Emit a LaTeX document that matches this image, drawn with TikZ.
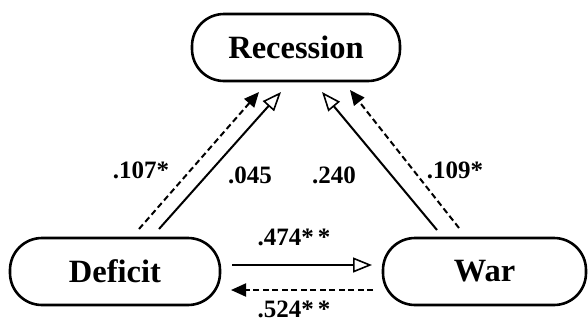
\documentclass[tikz,border=0pt]{standalone}
\usepackage{fontspec}
\setmainfont{Liberation Serif}
\usetikzlibrary{arrows.meta}
\begin{document}
\begin{tikzpicture}[x=1pt,y=-1pt,
  varbox/.style={draw=black, line width=2.6pt, rounded corners=32pt, minimum height=67pt, inner sep=0pt, font=\fontsize{32.5}{35}\selectfont\bfseries},
  coef/.style={font=\fontsize{25}{27}\selectfont\bfseries, inner sep=0pt},
  pathsolid/.style={line width=2pt, -{Triangle[open, length=19pt, width=15pt, line width=1.6pt]}},
  pathdash/.style={line width=2pt, dash pattern=on 6pt off 3.5pt, -{Triangle[length=15pt, width=13pt]}}
]
\useasboundingbox (0,0) rectangle (588,322);
\node[varbox, minimum width=208pt] (rec) at (296,47.5) {Recession};
\node[varbox, minimum width=210pt] (def) at (115,271.5) {Deficit};
\node[varbox, minimum width=203pt] (war) at (484.5,271.5) {War};
% free ends of connectors
\coordinate (dS) at (159,229);
\coordinate (dSt) at (281,92);
\coordinate (dD) at (139,229);
\coordinate (dDt) at (259,92);
\coordinate (wS) at (437,230);
\coordinate (wSt) at (322,92);
\coordinate (wD) at (459,228);
\coordinate (wDt) at (350,90);
\coordinate (hS) at (232,265);
\coordinate (hSt) at (372,265);
\coordinate (hD) at (373,290);
\coordinate (hDt) at (231,290);
\draw[pathsolid] (dS) -- (dSt);
\draw[pathdash] (dD) -- (dDt);
\draw[pathsolid] (wS) -- (wSt);
\draw[pathdash] (wD) -- (wDt);
\draw[pathsolid] (hS) -- (hSt);
\draw[pathdash] (hD) -- (hDt);
\node[coef] (l107) at (141,170) {.107*};
\node[coef] (l045) at (250,175) {.045};
\node[coef] (l240) at (334,175) {.240};
\node[coef] (l109) at (455,170) {.109*};
\node[coef] (l474) at (294,237) {.474*\,*};
\node[coef] (l524) at (294,309.5) {.524*\,*};
\end{tikzpicture}
\end{document}
